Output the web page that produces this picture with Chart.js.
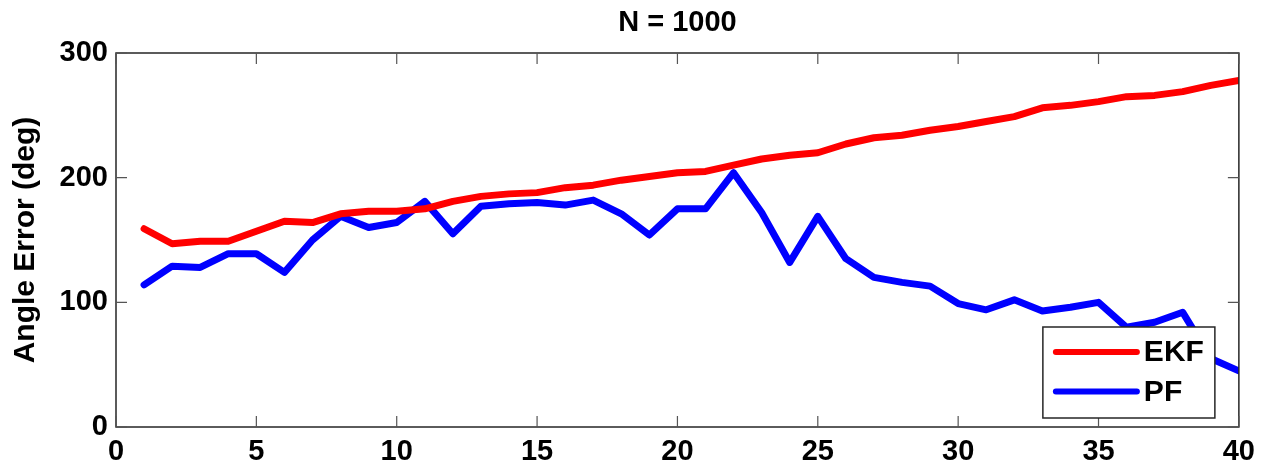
<!DOCTYPE html>
<html>
<head>
<meta charset="utf-8">
<script src="https://cdn.jsdelivr.net/npm/chart.js@4"></script>
<style>
    html, body { margin: 0; padding: 0; background: #fff; }
    #wrap { width: 1263px; height: 470px; }
</style>
</head>
<body>
<div id="wrap"><canvas id="errChart" width="1263" height="470"></canvas></div>
<script>
const steps = [1, 2, 3, 4, 5, 6, 7, 8, 9, 10, 11, 12, 13, 14, 15, 16, 17, 18, 19, 20,
               21, 22, 23, 24, 25, 26, 27, 28, 29, 30, 31, 32, 33, 34, 35, 36, 37, 38, 39, 40];
const ekfError = [159, 147, 149, 149, 157, 165, 164, 171, 173, 173, 175, 181, 185, 187, 188, 192, 194, 198, 201, 204,
                  205, 210, 215, 218, 220, 227, 232, 234, 238, 241, 245, 249, 256, 258, 261, 265, 266, 269, 274, 278];
const pfError = [114, 129, 128, 139, 139, 124, 150, 169, 160, 164, 181, 155, 177, 179, 180, 178, 182, 171, 154, 175,
                 175, 204, 172, 132, 169, 135, 120, 116, 113, 99, 94, 102, 93, 96, 100, 80, 84, 92, 55, 45];
const xTicks = [0, 5, 10, 15, 20, 25, 30, 35, 40];
const yTicks = [0, 100, 200, 300];
const titleText = "N = 1000";

const FONT = '"Liberation Sans", Arial, Helvetica, sans-serif';
const AXIS_COLOR = "#262626";

function toPoints(values) {
    return values.map((v, i) => ({ x: steps[i], y: v }));
}

// title centred over the plot area rather than the whole canvas
const plotTitle = {
    id: "plotTitle",
    afterDraw(chart) {
        const { ctx, chartArea: a } = chart;
        ctx.save();
        ctx.font = "bold 29px " + FONT;
        ctx.fillStyle = "#000";
        ctx.textAlign = "center";
        ctx.textBaseline = "middle";
        ctx.fillText(titleText, (a.left + a.right) / 2, 23);
        ctx.restore();
    }
};

// box round the plot with short inward ticks on all four sides
const boxPlugin = {
    id: "boxTicks",
    afterDatasetsDraw(chart) {
        const { ctx, chartArea: a, scales } = chart;
        ctx.save();
        ctx.strokeStyle = AXIS_COLOR;
        ctx.lineWidth = 1.5;
        ctx.strokeRect(a.left, a.top, a.right - a.left, a.bottom - a.top);

        ctx.strokeStyle = "#555";
        ctx.lineWidth = 1.2;
        const len = 11;
        ctx.beginPath();
        xTicks.forEach(t => {
            const px = scales.x.getPixelForValue(t);
            ctx.moveTo(px, a.bottom);
            ctx.lineTo(px, a.bottom - len);
            ctx.moveTo(px, a.top);
            ctx.lineTo(px, a.top + len);
        });
        yTicks.forEach(t => {
            const py = scales.y.getPixelForValue(t);
            ctx.moveTo(a.left, py);
            ctx.lineTo(a.left + len, py);
            ctx.moveTo(a.right, py);
            ctx.lineTo(a.right - len, py);
        });
        ctx.stroke();
        ctx.restore();
    }
};

// legend sits inside the plot, lower right corner
const insideLegend = {
    id: "insideLegend",
    afterDraw(chart) {
        const { ctx, chartArea: a } = chart;
        const w = 172, h = 91;
        const x0 = a.right - 24 - w;
        const y0 = a.bottom - 9 - h;
        ctx.save();
        ctx.fillStyle = "#fff";
        ctx.fillRect(x0, y0, w, h);
        ctx.strokeStyle = AXIS_COLOR;
        ctx.lineWidth = 1.5;
        ctx.strokeRect(x0, y0, w, h);

        ctx.font = "bold 30px " + FONT;
        ctx.textBaseline = "middle";
        chart.data.datasets.forEach((ds, i) => {
            const y = y0 + 25 + i * 39.5;
            ctx.strokeStyle = ds.borderColor;
            ctx.lineWidth = 6;
            ctx.lineCap = "round";
            ctx.beginPath();
            ctx.moveTo(x0 + 13, y);
            ctx.lineTo(x0 + 94, y);
            ctx.stroke();
            ctx.fillStyle = "#000";
            ctx.fillText(ds.label, x0 + 101, y + 1);
        });
        ctx.restore();
    }
};

new Chart(document.getElementById("errChart"), {
    type: "line",
    data: {
        datasets: [
            {
                label: "EKF",
                data: toPoints(ekfError),
                borderColor: "#ff0000",
                borderWidth: 7,
                pointRadius: 0,
                borderCapStyle: "round",
                borderJoinStyle: "round",
                tension: 0
            },
            {
                label: "PF",
                data: toPoints(pfError),
                borderColor: "#0000ff",
                borderWidth: 7,
                pointRadius: 0,
                borderCapStyle: "round",
                borderJoinStyle: "round",
                tension: 0
            }
        ]
    },
    options: {
        responsive: false,
        animation: false,
        layout: { padding: { left: 0, right: 23, top: 53, bottom: 0 } },
        plugins: {
            legend: { display: false },
            tooltip: { enabled: false },
            title: { display: false }
        },
        scales: {
            x: {
                type: "linear",
                min: 0,
                max: 40,
                afterBuildTicks: scale => { scale.ticks = xTicks.map(v => ({ value: v })); },
                afterFit: scale => { scale.height = 43; },
                grid: { display: false, drawTicks: false },
                border: { display: false },
                ticks: {
                    color: "#000",
                    padding: 8,
                    maxRotation: 0,
                    font: { family: FONT, size: 29, weight: "bold" }
                }
            },
            y: {
                min: 0,
                max: 300,
                afterBuildTicks: scale => { scale.ticks = yTicks.map(v => ({ value: v })); },
                afterFit: scale => { scale.width = 116; },
                grid: { display: false, drawTicks: false },
                border: { display: false },
                ticks: {
                    color: "#000",
                    padding: 8,
                    font: { family: FONT, size: 29, weight: "bold" }
                },
                title: {
                    display: true,
                    text: "Angle Error (deg)",
                    color: "#000",
                    font: { family: FONT, size: 30, weight: "bold", lineHeight: 1.2 },
                    padding: { top: 8, bottom: 0 }
                }
            }
        }
    },
    plugins: [boxPlugin, insideLegend, plotTitle]
});
</script>
</body>
</html>
